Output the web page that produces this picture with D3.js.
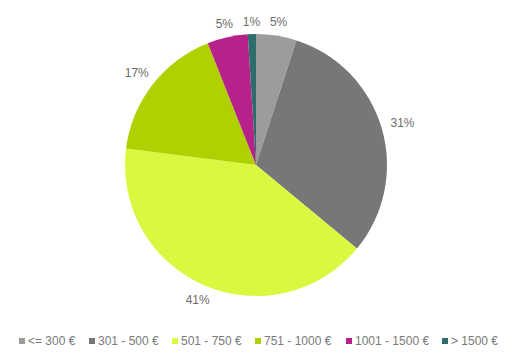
<!DOCTYPE html>
<html lang="de">
<head>
  <meta charset="UTF-8">
  <title>Pie</title>
  <style>
    body { margin: 0; background: #fff; }
    .rotulo { font-family: "Liberation Sans", Arial, sans-serif; font-size: 12px; fill: #6b6b6b; }
    .legenda { font-family: "Liberation Sans", Arial, sans-serif; font-size: 12px; fill: #7a7a7a; }
  </style>
</head>
<body>
  <svg id="grafico"></svg>
  <script src="https://d3js.org/d3.v7.min.js"></script>
  <script>
    const categorias = ['<= 300 €', '301 - 500 €', '501 - 750 €', '751 - 1000 €', '1001 - 1500 €', '> 1500 €'];
    const valores = [5, 31, 41, 17, 5, 1];
    const cores = ['#9c9c9c', '#777777', '#dcf740', '#b0d000', '#b7218a', '#2e6b6b'];
    const legendaX = [19, 89, 172, 255, 346, 442];

    function executa() {
      const largura = 523, altura = 353;
      const cx = 256, cy = 165, raio = 131;
      const svg = d3.select('#grafico').attr('width', largura).attr('height', altura);

      const pie = d3.pie().sort(null).value(d => d);
      const arcos = pie(valores);
      const arc = d3.arc().innerRadius(0).outerRadius(raio);

      const g = svg.append('g').attr('transform', `translate(${cx},${cy})`);
      g.selectAll('path')
        .data(arcos)
        .enter()
        .append('path')
        .attr('d', arc)
        .attr('fill', (d, i) => cores[i]);

      const meio = d => (d.startAngle + d.endAngle) / 2;
      const rotuloRaio = d => 143 + 10 * Math.abs(Math.sin(meio(d)));
      g.selectAll('.rotulo')
        .data(arcos)
        .enter()
        .append('text')
        .classed('rotulo', true)
        .attr('text-anchor', 'middle')
        .attr('dy', '0.35em')
        .attr('x', d => Math.sin(meio(d)) * rotuloRaio(d))
        .attr('y', d => -Math.cos(meio(d)) * rotuloRaio(d))
        .text(d => d.data + '%');

      const leg = svg.selectAll('.item')
        .data(categorias)
        .enter()
        .append('g')
        .attr('transform', (d, i) => `translate(${legendaX[i]},341)`);
      leg.append('rect')
        .attr('x', 0).attr('y', -3)
        .attr('width', 6).attr('height', 6)
        .attr('fill', (d, i) => cores[i]);
      leg.append('text')
        .classed('legenda', true)
        .attr('x', 9)
        .attr('dy', '0.35em')
        .text(d => d);
    }

    executa();
  </script>
</body>
</html>
